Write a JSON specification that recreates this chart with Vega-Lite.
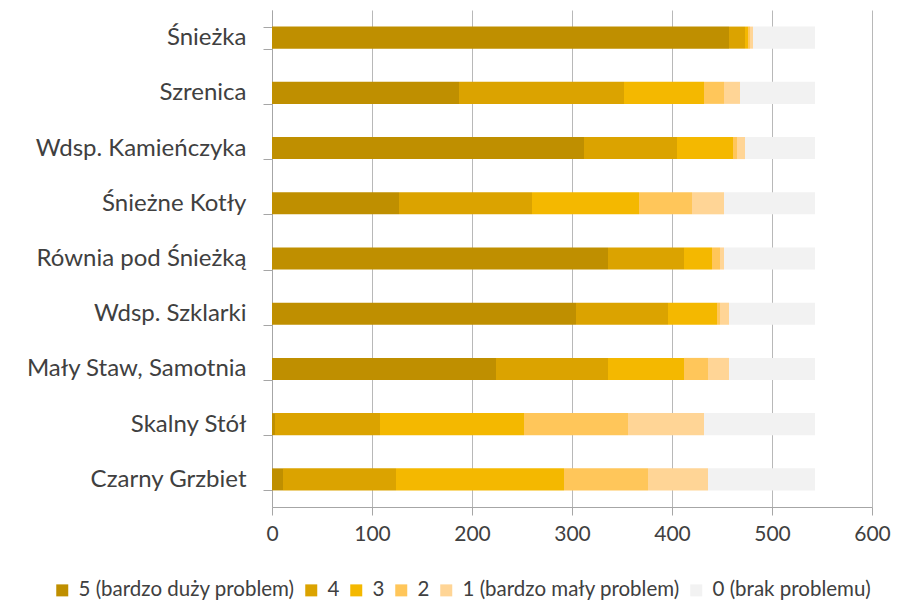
{
  "$schema": "https://vega.github.io/schema/vega-lite/v6.json",
  "width": 600,
  "height": 497,
  "autosize": {"type": "none"},
  "padding": {"left": 272, "top": 10, "right": 36, "bottom": 97},
  "background": "white",
  "config": {
    "view": {"stroke": null},
    "font": "Lato",
    "axis": {"labelFont": "Lato", "labelColor": "#404040"},
    "legend": {"labelFont": "Lato", "labelColor": "#404040"}
  },
  "data": {
    "values": [
      {"miejsce": "Śnieżka", "ocena": "5 (bardzo duży problem)", "k": 5, "n": 457},
      {"miejsce": "Śnieżka", "ocena": "4", "k": 4, "n": 16},
      {"miejsce": "Śnieżka", "ocena": "3", "k": 3, "n": 3},
      {"miejsce": "Śnieżka", "ocena": "2", "k": 2, "n": 2},
      {"miejsce": "Śnieżka", "ocena": "1 (bardzo mały problem)", "k": 1, "n": 3},
      {"miejsce": "Śnieżka", "ocena": "0 (brak problemu)", "k": 0, "n": 62},
      {"miejsce": "Szrenica", "ocena": "5 (bardzo duży problem)", "k": 5, "n": 187},
      {"miejsce": "Szrenica", "ocena": "4", "k": 4, "n": 165},
      {"miejsce": "Szrenica", "ocena": "3", "k": 3, "n": 80},
      {"miejsce": "Szrenica", "ocena": "2", "k": 2, "n": 20},
      {"miejsce": "Szrenica", "ocena": "1 (bardzo mały problem)", "k": 1, "n": 16},
      {"miejsce": "Szrenica", "ocena": "0 (brak problemu)", "k": 0, "n": 75},
      {"miejsce": "Wdsp. Kamieńczyka", "ocena": "5 (bardzo duży problem)", "k": 5, "n": 312},
      {"miejsce": "Wdsp. Kamieńczyka", "ocena": "4", "k": 4, "n": 93},
      {"miejsce": "Wdsp. Kamieńczyka", "ocena": "3", "k": 3, "n": 56},
      {"miejsce": "Wdsp. Kamieńczyka", "ocena": "2", "k": 2, "n": 4},
      {"miejsce": "Wdsp. Kamieńczyka", "ocena": "1 (bardzo mały problem)", "k": 1, "n": 8},
      {"miejsce": "Wdsp. Kamieńczyka", "ocena": "0 (brak problemu)", "k": 0, "n": 70},
      {"miejsce": "Śnieżne Kotły", "ocena": "5 (bardzo duży problem)", "k": 5, "n": 127},
      {"miejsce": "Śnieżne Kotły", "ocena": "4", "k": 4, "n": 133},
      {"miejsce": "Śnieżne Kotły", "ocena": "3", "k": 3, "n": 107},
      {"miejsce": "Śnieżne Kotły", "ocena": "2", "k": 2, "n": 53},
      {"miejsce": "Śnieżne Kotły", "ocena": "1 (bardzo mały problem)", "k": 1, "n": 32},
      {"miejsce": "Śnieżne Kotły", "ocena": "0 (brak problemu)", "k": 0, "n": 91},
      {"miejsce": "Równia pod Śnieżką", "ocena": "5 (bardzo duży problem)", "k": 5, "n": 336},
      {"miejsce": "Równia pod Śnieżką", "ocena": "4", "k": 4, "n": 76},
      {"miejsce": "Równia pod Śnieżką", "ocena": "3", "k": 3, "n": 28},
      {"miejsce": "Równia pod Śnieżką", "ocena": "2", "k": 2, "n": 8},
      {"miejsce": "Równia pod Śnieżką", "ocena": "1 (bardzo mały problem)", "k": 1, "n": 4},
      {"miejsce": "Równia pod Śnieżką", "ocena": "0 (brak problemu)", "k": 0, "n": 91},
      {"miejsce": "Wdsp. Szklarki", "ocena": "5 (bardzo duży problem)", "k": 5, "n": 304},
      {"miejsce": "Wdsp. Szklarki", "ocena": "4", "k": 4, "n": 92},
      {"miejsce": "Wdsp. Szklarki", "ocena": "3", "k": 3, "n": 49},
      {"miejsce": "Wdsp. Szklarki", "ocena": "2", "k": 2, "n": 3},
      {"miejsce": "Wdsp. Szklarki", "ocena": "1 (bardzo mały problem)", "k": 1, "n": 9},
      {"miejsce": "Wdsp. Szklarki", "ocena": "0 (brak problemu)", "k": 0, "n": 86},
      {"miejsce": "Mały Staw, Samotnia", "ocena": "5 (bardzo duży problem)", "k": 5, "n": 224},
      {"miejsce": "Mały Staw, Samotnia", "ocena": "4", "k": 4, "n": 112},
      {"miejsce": "Mały Staw, Samotnia", "ocena": "3", "k": 3, "n": 76},
      {"miejsce": "Mały Staw, Samotnia", "ocena": "2", "k": 2, "n": 24},
      {"miejsce": "Mały Staw, Samotnia", "ocena": "1 (bardzo mały problem)", "k": 1, "n": 21},
      {"miejsce": "Mały Staw, Samotnia", "ocena": "0 (brak problemu)", "k": 0, "n": 86},
      {"miejsce": "Skalny Stół", "ocena": "5 (bardzo duży problem)", "k": 5, "n": 3},
      {"miejsce": "Skalny Stół", "ocena": "4", "k": 4, "n": 105},
      {"miejsce": "Skalny Stół", "ocena": "3", "k": 3, "n": 144},
      {"miejsce": "Skalny Stół", "ocena": "2", "k": 2, "n": 104},
      {"miejsce": "Skalny Stół", "ocena": "1 (bardzo mały problem)", "k": 1, "n": 76},
      {"miejsce": "Skalny Stół", "ocena": "0 (brak problemu)", "k": 0, "n": 111},
      {"miejsce": "Czarny Grzbiet", "ocena": "5 (bardzo duży problem)", "k": 5, "n": 11},
      {"miejsce": "Czarny Grzbiet", "ocena": "4", "k": 4, "n": 113},
      {"miejsce": "Czarny Grzbiet", "ocena": "3", "k": 3, "n": 168},
      {"miejsce": "Czarny Grzbiet", "ocena": "2", "k": 2, "n": 84},
      {"miejsce": "Czarny Grzbiet", "ocena": "1 (bardzo mały problem)", "k": 1, "n": 60},
      {"miejsce": "Czarny Grzbiet", "ocena": "0 (brak problemu)", "k": 0, "n": 107}
    ]
  },
  "mark": {"type": "bar"},
  "encoding": {
    "y": {
      "field": "miejsce",
      "type": "nominal",
      "sort": null,
      "scale": {"paddingInner": 0.6, "paddingOuter": 0.3},
      "axis": {
        "title": null,
        "domainColor": "#A6A6A6",
        "tickColor": "#A6A6A6",
        "tickSize": 9,
        "tickBand": "extent",
        "tickExtra": true,
        "labelFontSize": 24,
        "labelPadding": 17,
        "labelLimit": 0,
        "grid": false
      }
    },
    "x": {
      "field": "n",
      "type": "quantitative",
      "stack": "zero",
      "scale": {"domain": [0, 600], "nice": false},
      "axis": {
        "title": null,
        "values": [0, 100, 200, 300, 400, 500, 600],
        "grid": true,
        "gridColor": "#B8B8B8",
        "domainColor": "#A6A6A6",
        "tickColor": "#A6A6A6",
        "tickSize": 8,
        "labelFlush": false,
        "labelFontSize": 21,
        "labelPadding": 8
      }
    },
    "color": {
      "field": "ocena",
      "type": "nominal",
      "scale": {
        "domain": ["5 (bardzo duży problem)", "4", "3", "2", "1 (bardzo mały problem)", "0 (brak problemu)"],
        "range": ["#BF8F00", "#DBA300", "#F4B800", "#FFC65A", "#FFD596", "#F2F2F2"]
      },
      "legend": {
        "title": null,
        "orient": "none",
        "direction": "horizontal",
        "legendX": -220,
        "legendY": 570,
        "padding": 0,
        "symbolType": "square",
        "symbolSize": 144,
        "symbolStrokeWidth": 0,
        "labelFontSize": 20.5,
        "labelOffset": 6,
        "columnPadding": 6,
        "labelLimit": 400
      }
    },
    "order": {"field": "k", "type": "quantitative", "sort": "descending"}
  }
}
